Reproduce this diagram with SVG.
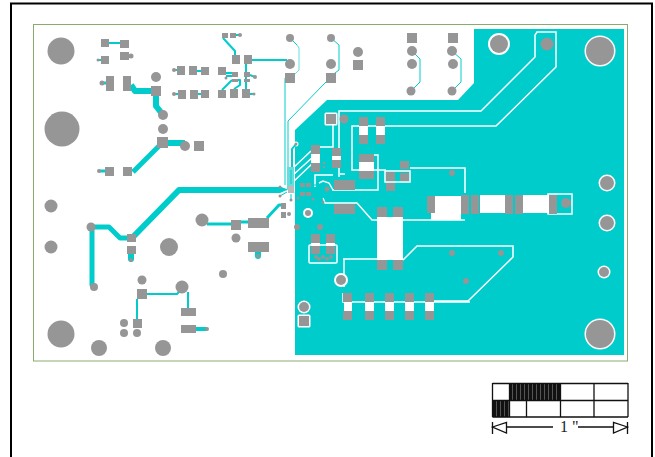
<svg xmlns="http://www.w3.org/2000/svg" width="655" height="457" viewBox="0 0 655 457">
<style>
.p{fill:#969696}
.w{fill:none;stroke:#fff;stroke-width:1.5}
.wf{fill:#fff}
.c{fill:none;stroke:#00cccc;stroke-linejoin:round}
.l{fill:none;stroke:#66dddd;stroke-width:1}
.k{fill:none;stroke:#111;stroke-width:1.3}
</style>
<defs>
<pattern id="st" width="4" height="4" patternUnits="userSpaceOnUse"><rect width="4" height="4" fill="#111"/><rect width="1" height="4" fill="#555"/></pattern>
</defs>
<rect width="655" height="457" fill="#fff"/>
<path d="M11 457V3.500H652V457" fill="none" stroke="#000" stroke-width="2"/>
<rect x="33.500" y="24.500" width="594" height="336.500" fill="none" stroke="#8aaa6f" stroke-width="1"/>

<g id="plane">
<path d="M295 130L327 100H458L474 83V29H624V355H295Z" fill="#00cccc"/>
<path class="w" d="M339 177V111H481L535 57V35L537 32H556V67L496 126H352V170H359M374 170H386M410 168H465V193"/>
<path class="w" d="M326 124H333V147H320M315 187V175H333M332 190H378V155H374M319 183L323 181L329 183L333 190M340 174H345"/>
<path class="w" d="M323 198L325 203H357L372 220H465M343 259H377M403 260L417 246H513V257L468 301H433M470 302H343V293M344 287V259"/>
<path class="w" d="M311 151L293 168M314 156L293 175M313 163L293 182"/>
<rect class="w" x="385" y="171" width="25" height="11"/>
<rect class="w" x="548" y="194" width="24" height="20"/>
<rect class="w" x="309" y="245" width="28" height="18" rx="1"/>
<path class="wf" d="M359 126h9v9h-9zM376 126h9v9h-9zM359 162h15v9h-15zM311 154h9v9h-9zM332 156h9v4h-9zM377 217h26v43h-26zM435 196h26v24h-30v-7h4zM480 195h25v18h-25zM523 195h26v18h-26zM344 302h8v9h-8zM365 302h9v9h-9zM385 302h9v9h-9zM405 302h9v9h-9zM425 302h9v9h-9zM311 243h9v3h-9zM326 243h9v3h-9z"/>
<g fill="#fff">
<circle cx="499" cy="44" r="11"/><circle cx="600" cy="51" r="15.500"/><circle cx="607" cy="183" r="8.500"/><circle cx="607" cy="223" r="8.500"/><circle cx="604" cy="272" r="6.500"/><circle cx="600" cy="334" r="15.500"/><circle cx="341" cy="280" r="7"/><circle cx="304" cy="307" r="6.500"/><circle cx="308" cy="213" r="5"/><circle cx="296" cy="144" r="2.500"/>
<rect x="297.500" y="314.500" width="13" height="13" rx="1.500"/><rect x="324.500" y="112.500" width="13" height="13" rx="1.500"/>
</g>
</g>

<g id="connectors">
<g class="c">
<path stroke-width="6" d="M131 85L135 91H156V106L163 115"/>
<path stroke-width="6" d="M162 143H185"/>
<path stroke-width="5" d="M162 143L133 172"/>
<path stroke-width="6" d="M132 238L179 190H280"/>
<path d="M280 187L288 189.500L280 193Z" fill="#00cccc" stroke="none"/>
<path stroke-width="5" d="M132 238H120L109 227H92V285L94 287"/>
<path stroke-width="6" stroke-linecap="round" d="M131 253V259"/>
<path stroke-width="6" stroke-linecap="round" d="M258 252V256"/>
<path stroke-width="3" d="M99 171H106M102 83H107"/>
<path stroke-width="2" d="M105 43H120M98 60H102M174 70H178M174 94H178M125 56H131M192 71H202M194 94H202M240 35H232"/>
<path stroke-width="2" d="M223 38L235 51V56M252 60H287M246 64V89M250 75L255 77M242 94H254M226 73H234M226 76H234M222 90L232 80M234 89L240 85V80H236"/>
<path stroke-width="2" d="M147 294H177L182 289M188 292V308M137 299V319"/>
<path stroke-width="4" d="M196 329H207"/>
<path stroke-width="3" d="M207 224H231M241 222H248"/>
<path stroke-width="3" d="M267 218L279 205H285"/>
<path stroke-width="1" d="M290 38L297 45M339 70L331 76M331 38L339 45V70M285 78V185M326 82L288 121V185M412 51L420 59V82L411 91M452 51L461 59V82L452 91"/>
<path stroke-width="2" d="M296 144L292 149V180"/>
</g>
<path class="l" stroke-width="2" d="M297 45L299 48V70L291 78"/>
<path d="M287 167H294V190H287Z" fill="#66dddd"/>
<g fill="none" stroke="#00cccc" stroke-width="1">
<path d="M287 190L280 187M287 192L280 196M291 194V200M295 192L298 198M300 189H306M300 194H306M311 185H319M311 194H319L323 200M319 190L327 189M291 184V170"/>
</g>
</g>

<g id="pads">
<g class="p">
<circle cx="61" cy="51" r="13.500"/><circle cx="62" cy="129" r="17.500"/><circle cx="51" cy="206" r="6.500"/><circle cx="51" cy="247" r="6.500"/>
<circle cx="61" cy="334" r="13.500"/><circle cx="99" cy="348" r="8"/><circle cx="163" cy="348" r="8"/>
<circle cx="156" cy="77" r="5"/><circle cx="163" cy="115" r="5"/><circle cx="163" cy="129" r="5"/><circle cx="185" cy="146" r="5"/>
<circle cx="91" cy="227" r="4.500"/><circle cx="94" cy="287" r="4"/><circle cx="202" cy="220" r="6.500"/><circle cx="169" cy="247" r="9"/><circle cx="236" cy="238" r="4.500"/><circle cx="223" cy="274" r="4"/>
<circle cx="142" cy="280" r="4.500"/><circle cx="182" cy="287" r="6.500"/><circle cx="124" cy="323" r="4"/><circle cx="124" cy="333" r="4"/><circle cx="137" cy="333" r="4"/>
<circle cx="290" cy="38" r="4"/><circle cx="331" cy="38" r="4"/><circle cx="290" cy="64" r="5"/><circle cx="331" cy="64" r="5"/><circle cx="358" cy="52" r="5"/>
<circle cx="412" cy="51" r="5"/><circle cx="412" cy="64" r="5"/><circle cx="411" cy="91" r="4.500"/><circle cx="452" cy="51" r="5"/><circle cx="453" cy="64" r="5"/><circle cx="452" cy="91" r="4.500"/>
<circle cx="344" cy="119" r="4.500"/><circle cx="499" cy="44" r="9"/><circle cx="547" cy="44" r="6.500"/><circle cx="600" cy="51" r="14"/><circle cx="607" cy="183" r="7"/><circle cx="607" cy="223" r="7"/><circle cx="604" cy="272" r="5"/><circle cx="600" cy="334" r="14"/>
<circle cx="566" cy="203" r="5"/><circle cx="452" cy="173" r="3"/><circle cx="452" cy="253" r="3"/><circle cx="501" cy="253" r="3"/><circle cx="466" cy="281" r="3"/>
<circle cx="341" cy="280" r="5"/><circle cx="304" cy="307" r="5"/><circle cx="308" cy="213" r="3"/><circle cx="297" cy="227" r="3"/><circle cx="320" cy="227" r="3"/><circle cx="327" cy="189" r="2.500"/>
<circle cx="316" cy="257" r="2"/><circle cx="319" cy="259" r="2"/><circle cx="323" cy="257" r="2"/><circle cx="327" cy="259" r="2"/><circle cx="331" cy="257" r="2"/>
<circle cx="280" cy="187" r="1.500"/><circle cx="280" cy="196" r="1.500"/><circle cx="291" cy="200" r="1.500"/><circle cx="298" cy="198" r="1.500"/><circle cx="313" cy="199" r="1.500"/><circle cx="323" cy="202" r="1.500"/><circle cx="296" cy="144" r="1.500"/><circle cx="324" cy="163" r="1.200"/><circle cx="324" cy="167" r="1.200"/>
<circle cx="131" cy="56" r="2.500"/><circle cx="98" cy="60" r="1.500"/><circle cx="102" cy="83" r="2.500"/><circle cx="99" cy="171" r="2"/><circle cx="174" cy="70" r="2"/><circle cx="174" cy="94" r="2"/><circle cx="240" cy="35" r="2"/><circle cx="226" cy="78" r="1.500"/><circle cx="255" cy="77" r="2"/><circle cx="254" cy="94" r="1.500"/><circle cx="131" cy="260" r="2"/><circle cx="258" cy="256" r="2"/><circle cx="207" cy="329" r="2"/><circle cx="289" cy="214" r="2"/>
</g>
<path class="p" d="M101 39h8v8h-8zM120 40h9v8h-9zM101 56h8v8h-8zM120 52h9v8h-9zM106 76h8v15h-8zM123 76h8v15h-8zM151 86h10v10h-10zM157 137h11v11h-11zM194 141h10v10h-10zM105 167h9v9h-9zM123 167h9v9h-9z"/>
<path class="p" d="M222 33h6v5h-6zM230 33h6v5h-6zM232 55h8v9h-8zM244 55h8v9h-8zM177 66h8v9h-8zM189 66h8v9h-8zM201 67h8v8h-8zM218 67h8v8h-8zM178 90h8v9h-8zM190 90h8v9h-8zM201 90h8v8h-8zM218 90h8v8h-8zM230 89h8v9h-8zM242 89h8v9h-8zM232 72h6v5h-6zM232 79h6v3h-6zM244 72h6v5h-6zM244 79h6v3h-6z"/>
<path class="p" d="M127 234h9v8h-9zM127 246h9v8h-9zM231 220h10v10h-10zM248 218h21v10h-21zM248 242h21v10h-21zM281 203h5v6h-5zM281 212h5v6h-5zM137 289h10v10h-10zM133 319h9v9h-9zM181 308h15v8h-15zM181 325h15v8h-15z"/>
<path class="p" d="M285 73h10v10h-10zM326 73h10v10h-10zM353 60h10v10h-10zM407 33h10v10h-10zM448 33h10v10h-10z"/>
<path class="p" d="M326 114h10v10h-10zM359 117h9v9h-9zM359 135h9v9h-9zM376 117h9v9h-9zM376 135h9v9h-9zM311 145h9v9h-9zM311 163h9v9h-9zM332 148h9v8h-9zM332 160h9v8h-9zM359 154h15v8h-15zM359 171h15v8h-15zM386 172h9v9h-9zM386 183h9v8h-9zM400 161h9v8h-9zM400 173h9v8h-9zM334 180h21v10h-21zM334 204h21v10h-21z"/>
<path class="p" d="M300 183h5v4h-5zM306 183h5v4h-5zM300 192h5v4h-5zM306 192h5v4h-5z"/>
<rect x="288" y="186" width="6" height="7" fill="#bbb"/>
<path class="p" d="M377 207h10v10h-10zM393 207h10v10h-10zM377 260h10v10h-10zM393 260h10v10h-10zM427 196h8v17h-8zM461 195h8v19h-8zM471 195h8v19h-8zM505 195h8v19h-8zM515 195h8v19h-8zM549 195h8v19h-8z"/>
<path class="p" d="M343 293h9v9h-9zM343 311h9v9h-9zM365 293h9v9h-9zM365 311h9v9h-9zM385 293h9v9h-9zM385 311h9v9h-9zM405 293h9v9h-9zM405 311h9v9h-9zM425 293h9v9h-9zM425 311h9v9h-9z"/>
<path class="p" d="M311 234h9v9h-9zM326 234h9v9h-9zM311 246h9v8h-9zM326 246h9v8h-9zM299 316h10v10h-10z"/>
</g>

<g id="scale">
<rect x="509" y="383" width="51" height="17" fill="url(#st)"/>
<rect x="492" y="400" width="18" height="17" fill="url(#st)"/>
<path class="k" d="M492.500 383.500H628M492.500 400.500H628M492.500 417H628M492.500 383V417M509.500 383V417M526.500 400V417M560.500 383V417M594 383V417M628 383V417"/>
<path class="k" d="M492.500 422V434M627.500 422V434M507 427H553M578 427H613"/>
<path class="k" d="M492.500 427L506.500 422.500V433ZM627.500 427L613.500 422.500V433Z" fill="#fff"/>
<text x="560" y="432" font-family="Liberation Serif, serif" font-size="16" fill="#222">1 "</text>
</g>
</svg>
